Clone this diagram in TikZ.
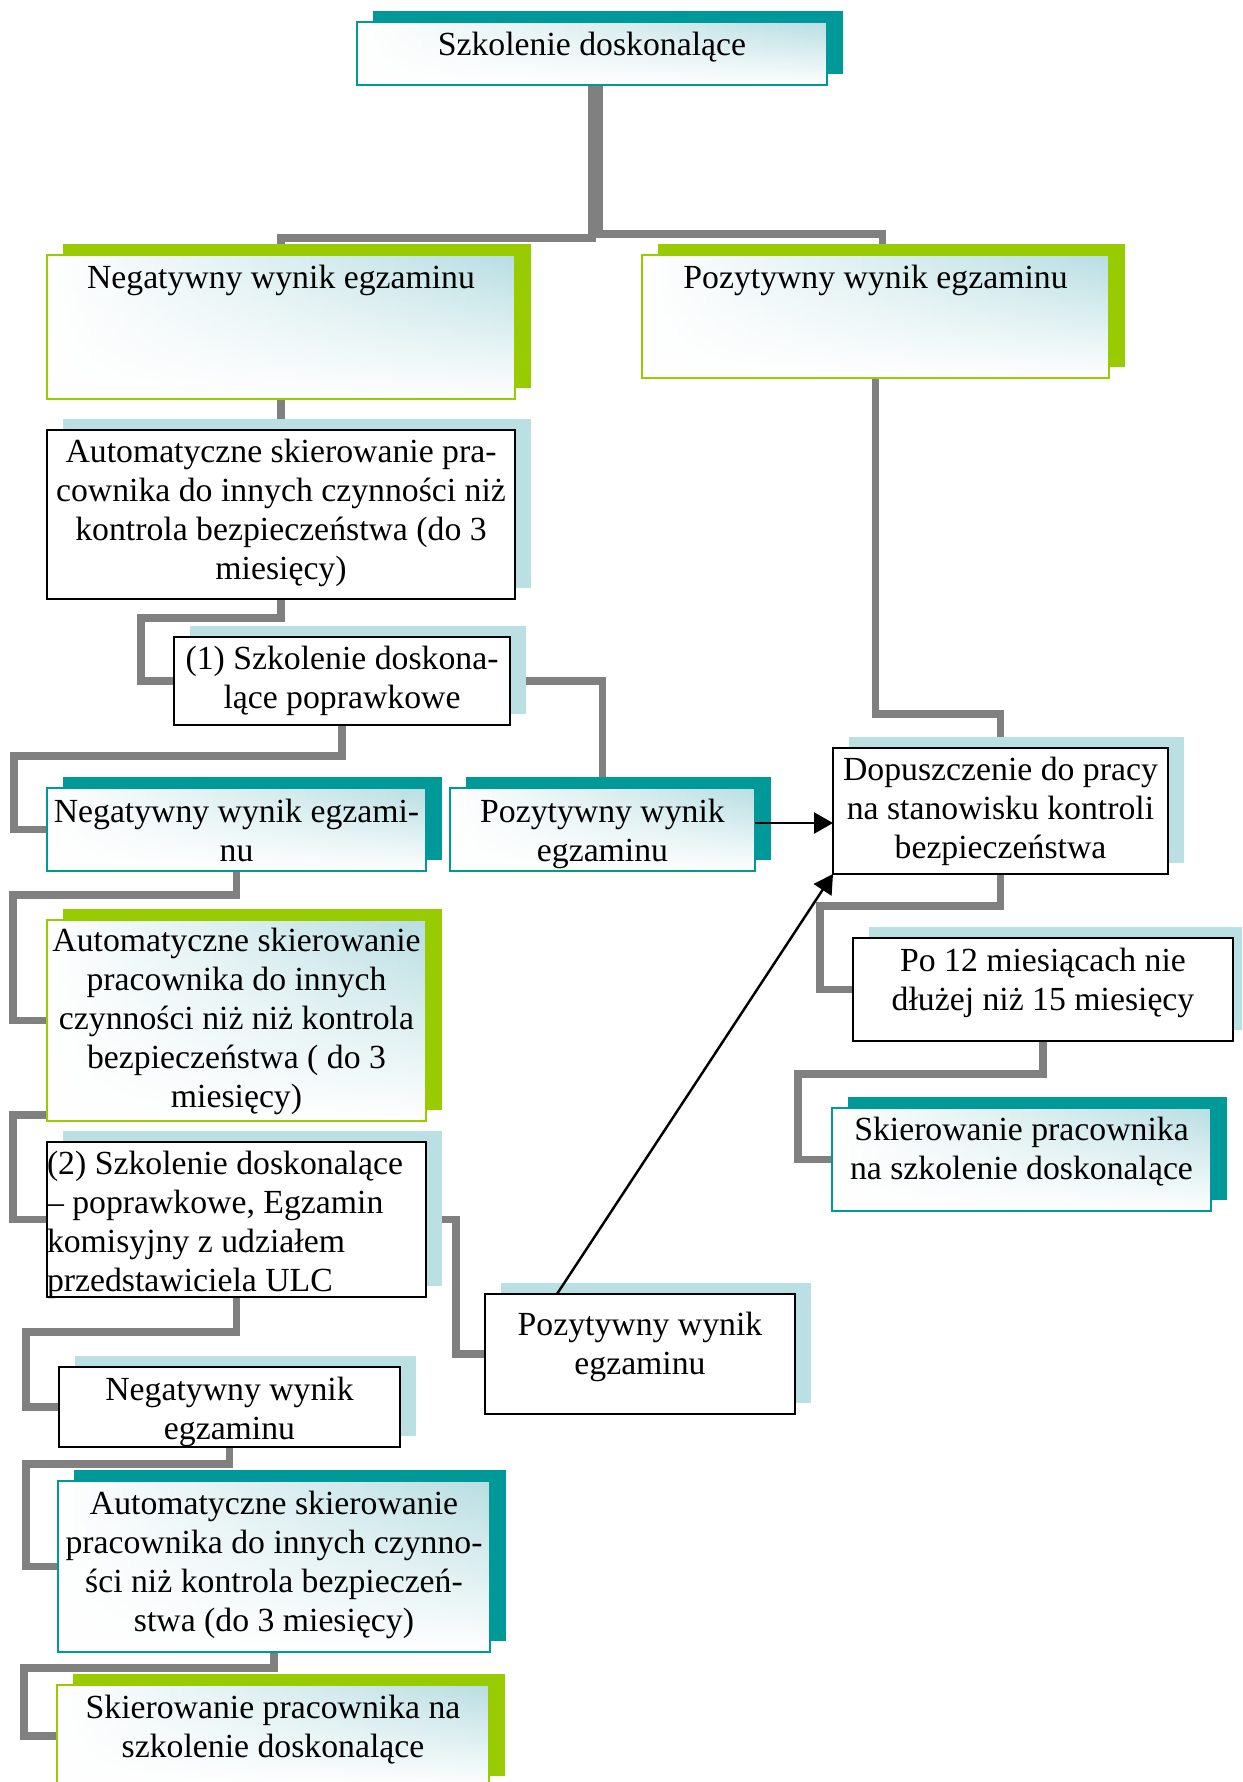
\documentclass[tikz,border=0pt]{standalone}
\usepackage{fontspec}
\setmainfont{Liberation Serif}
\usetikzlibrary{arrows.meta,shadows,backgrounds,fadings}
\definecolor{tealc}{RGB}{0,153,153}
\definecolor{greenc}{RGB}{153,204,0}
\definecolor{shadblue}{RGB}{187,224,227}
\definecolor{gradblue}{RGB}{184,222,226}
\definecolor{linegray}{RGB}{128,128,128}
\tikzfading[name=fadeup, top color=transparent!100, bottom color=transparent!0]
\newcommand{\boxtxt}[4]{\parbox[c][#2][t]{#1}{\vspace*{#3}\centering #4}}

\begin{document}
\begin{tikzpicture}
\tikzstyle{every node}=[font=\fontsize{19.2pt}{22.2pt}\selectfont, inner sep=0pt, outer sep=0pt, anchor=north west]
\tikzstyle{grad}=[left color=white, right color=gradblue, postaction={fill=white, path fading=fadeup}]
\tikzstyle{tealbox}=[general shadow={fill=tealc, shadow xshift=0.31cm, shadow yshift=0.23cm}, grad, postaction={draw=tealc, line width=1.2pt}]
\tikzstyle{greenbox}=[general shadow={fill=greenc, shadow xshift=0.31cm, shadow yshift=0.23cm}, grad, postaction={draw=greenc, line width=1.2pt}]
\tikzstyle{blackbox}=[general shadow={fill=shadblue, shadow xshift=0.31cm, shadow yshift=0.23cm}, fill=white, draw=black, line width=1.3pt]
\tikzstyle{conn}=[draw=linegray, line width=4.5pt]
\tikzstyle{arr}=[-{Triangle[length=0.38cm,width=0.42cm]}, line width=1.4pt]
\useasboundingbox (0,0) rectangle (24.84,-35.64);
\clip (0,0) rectangle (24.84,-35.64);

% boxes
\node[tealbox] (b1) at (7.14,-0.44) {\boxtxt{9.4cm}{1.26cm}{0.2cm}{Szkolenie doskonalące}};
\node[greenbox] (b2) at (0.94,-5.10) {\boxtxt{9.36cm}{2.88cm}{0.2cm}{Negatywny wynik egzaminu}};
\node[greenbox] (b3) at (12.84,-5.10) {\boxtxt{9.34cm}{2.46cm}{0.21cm}{Pozytywny wynik egzaminu}};
\node[blackbox] (b4) at (0.94,-8.60) {\boxtxt{9.36cm}{3.38cm}{0.19cm}{Automatyczne skierowanie pra-\\cownika do innych czynności niż\\kontrola bezpieczeństwa (do 3\\miesięcy)}};
\node[blackbox] (b5) at (3.48,-12.74) {\boxtxt{6.72cm}{1.76cm}{0.19cm}{(1) Szkolenie doskona-\\lące poprawkowe}};
\node[tealbox] (b6) at (0.94,-15.76) {\boxtxt{7.58cm}{1.66cm}{0.22cm}{Negatywny wynik egzami-\\nu}};
\node[tealbox] (b7) at (9.00,-15.76) {\boxtxt{6.1cm}{1.66cm}{0.22cm}{Pozytywny wynik\\egzaminu}};
\node[blackbox] (b8) at (16.66,-14.96) {\boxtxt{6.7cm}{2.52cm}{0.19cm}{Dopuszczenie do pracy\\na stanowisku kontroli\\bezpieczeństwa}};
\node[blackbox] (b9) at (17.06,-18.76) {\boxtxt{7.6cm}{2.06cm}{0.21cm}{Po 12 miesiącach nie\\dłużej niż 15 miesięcy}};
\node[tealbox] (b10) at (16.64,-22.16) {\boxtxt{7.58cm}{2.06cm}{0.19cm}{Skierowanie pracownika\\na szkolenie doskonalące}};
\node[greenbox] (b11) at (0.94,-18.40) {\boxtxt{7.58cm}{4.02cm}{0.17cm}{Automatyczne skierowanie\\pracownika do innych\\czynności niż niż kontrola\\bezpieczeństwa ( do 3\\miesięcy)}};
\node[blackbox] (b12) at (0.94,-22.84) {\boxtxt{7.58cm}{3.1cm}{0.19cm}{\raggedright (2) Szkolenie doskonalące\\– poprawkowe, Egzamin\\komisyjny z udziałem\\przedstawiciela ULC}};
\node[blackbox] (b13) at (9.70,-25.88) {\boxtxt{6.2cm}{2.4cm}{0.37cm}{Pozytywny wynik\\egzaminu}};
\node[blackbox] (b14) at (1.18,-27.34) {\boxtxt{6.82cm}{1.6cm}{0.2cm}{Negatywny wynik\\egzaminu}};
\node[tealbox] (b15) at (1.16,-29.62) {\boxtxt{8.64cm}{3.42cm}{0.21cm}{Automatyczne skierowanie\\pracownika do innych czynno-\\ści niż kontrola bezpieczeń-\\stwa (do 3 miesięcy)}};
\node[greenbox] (b16) at (1.14,-33.70) {\boxtxt{8.64cm}{2.04cm}{0.2cm}{Skierowanie pracownika na\\szkolenie doskonalące}};

% elbow connectors behind the boxes
\begin{scope}[on background layer]
\draw[conn] (b1.south) -- ++(0,-3.06) -| (b2.north);
\draw[conn] ([xshift=0.14cm]b1.south) -- ++(0,-2.98) -| ([xshift=0.14cm]b3.north);
\draw[conn] (b2.south) -- (b4.north);
\draw[conn] (b4.south) -- ++(0,-0.38) -| ([xshift=-0.66cm]b5.west) -- (b5.west);
\draw[conn] (b5.south) -- ++(0,-0.62) -| ([xshift=-0.66cm]b6.west) -- (b6.west);
\draw[conn] (b5.east) -| (b7.north);
\draw[conn] (b3.south) -- ++(0,-6.72) -| (b8.north);
\draw[conn] (b8.south) -- ++(0,-0.64) -| ([xshift=-0.66cm]b9.west) -- (b9.west);
\draw[conn] (b9.south) -- ++(0,-0.66) -| ([xshift=-0.68cm]b10.west) -- (b10.west);
\draw[conn] (b6.south) -- ++(0,-0.48) -| ([xshift=-0.68cm]b11.west) -- (b11.west);
\draw[conn] ([yshift=0.12cm]b11.south) -| ([xshift=-0.68cm]b12.west) -- (b12.west);
\draw[conn] (b12.east) -- ++(0.6,0) |- (b13.west);
\draw[conn] (b12.south) -- ++(0,-0.7) -| ([xshift=-0.66cm]b14.west) -- (b14.west);
\draw[conn] (b14.south) -- ++(0,-0.34) -| ([xshift=-0.64cm]b15.west) -- (b15.west);
\draw[conn] (b15.south) -- ++(0,-0.32) -| ([xshift=-0.66cm]b16.west) -- (b16.west);
\end{scope}

% arrows
\coordinate (a7) at ([yshift=0.13cm]b7.east);
\draw[arr] (a7) -- (a7 -| b8.west);
\draw[arr] ([xshift=1.44cm]b13.north west) -- (b8.south west);

\end{tikzpicture}
\end{document}
